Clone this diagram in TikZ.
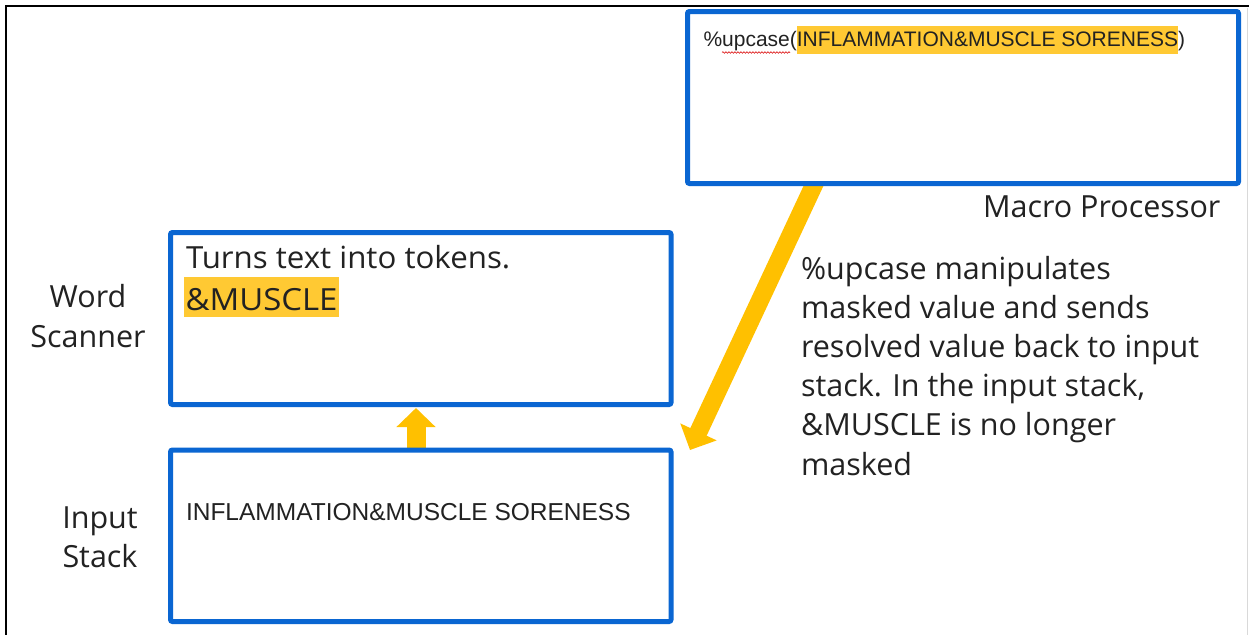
\documentclass[tikz,border=0pt]{standalone}
\usepackage{fontspec}
\setmainfont{Open Sans}
\newfontfamily\condfont{Liberation Sans}
\usetikzlibrary{arrows.meta,decorations.pathmorphing}
\pgfdeclarelayer{background}
\pgfsetlayers{background,main}

\definecolor{boxblue}{HTML}{0A66D2}
\definecolor{arrowgold}{HTML}{FFC000}
\definecolor{marker}{HTML}{FFC933}
\definecolor{ink}{HTML}{222222}

\tikzset{
  panel/.style={draw=boxblue, line width=5pt, fill=white, rounded corners=2pt,
    inner sep=0pt, outer sep=0pt, anchor=north west},
  lbl/.style={inner sep=0pt, outer sep=0pt, text=ink, anchor=base west},
  mid/.style={inner sep=0pt, outer sep=0pt, text=ink, anchor=base},
  body/.style={font=\fontsize{30.5}{36}\selectfont},
  cond/.style={font=\condfont\fontsize{21}{25}\selectfont},
  condbig/.style={font=\condfont\fontsize{24.5}{29}\selectfont},
  flow/.style={draw=arrowgold, line width=18pt,
    -{Triangle[width=39pt,length=20pt]}},
  lift/.style={draw=arrowgold, line width=19pt,
    -{Triangle[width=38pt,length=19pt]}},
}

\begin{document}
\begin{tikzpicture}[x=1pt,y=-1pt]
  \useasboundingbox (0,0) rectangle (1249,635);

  % frame of the slide
  \draw[black, line width=2.5pt] (1249,6) -- (6,6) -- (6,635);
  \draw[black!15, line width=1pt] (1247.5,8) -- (1247.5,635);

  % the three stages
  \node[panel, minimum width=551pt, minimum height=172pt] (macro) at (687.5,11.5) {};
  \node[panel, minimum width=500.5pt, minimum height=172pt] (scanner) at (170.5,232.5) {};
  \node[panel, minimum width=500.5pt, minimum height=171.5pt] (stack) at (170.5,450) {};

  % page and flow arrows, tucked under the boxes
  \coordinate (bigstart) at (820,172);
  \coordinate (bigtip) at (690,450);
  \begin{pgfonlayer}{background}
    \fill[white] (0,0) rectangle (1249,635);
    \draw[flow] (bigstart) -- (bigtip);
    \draw[lift] ([xshift=-4.75pt,yshift=-6pt]stack.north) -- ([xshift=-4.75pt,yshift=-3.5pt]scanner.south);
  \end{pgfonlayer}

  % macro processor content
  \node[lbl, cond] (m1) at (703.5,46) {\%upcase(};
  \node[lbl, cond, fill=marker, text height=20pt, text depth=8pt] (m2) at (m1.base east) {INFLAMMATION\&MUSCLE SORENESS};
  \node[lbl, cond] (m3) at (m2.base east) {)};
  \draw[red!85!black, line width=0.6pt, decorate,
    decoration={snake, amplitude=0.8pt, segment length=3pt}] (722,52.5) -- (790,52.5);
  \node[lbl, body] (mlabel) at (983,217) {Macro Processor};

  % word scanner
  \node[mid, body] (ws1) at (88,307) {Word};
  \node[mid, body] (ws2) at (88,347) {Scanner};
  \node[lbl, body] (tok) at (186,268) {\scalebox{1.025}[1]{Turns text into tokens.}};
  \node[lbl, body, fill=marker, inner xsep=1.5pt, text height=33pt, text depth=7pt] (amp) at (184,310) {\scalebox{1.08}[1]{\&MUSCLE}};

  % input stack
  \node[mid, body] (is1) at (100,528) {Input};
  \node[mid, body] (is2) at (100,567) {Stack};
  \node[lbl, condbig] (stxt) at (186,520) {INFLAMMATION\&MUSCLE SORENESS};

  % explanation
  \foreach \t [count=\i from 0] in {
      \%upcase manipulates,
      masked value and sends,
      resolved value back to input,
      {stack. In the input stack,},
      \&MUSCLE is no longer,
      masked}
    \node[lbl, body] (note\i) at (801,{279+39.2*\i}) {\t};
\end{tikzpicture}
\end{document}
